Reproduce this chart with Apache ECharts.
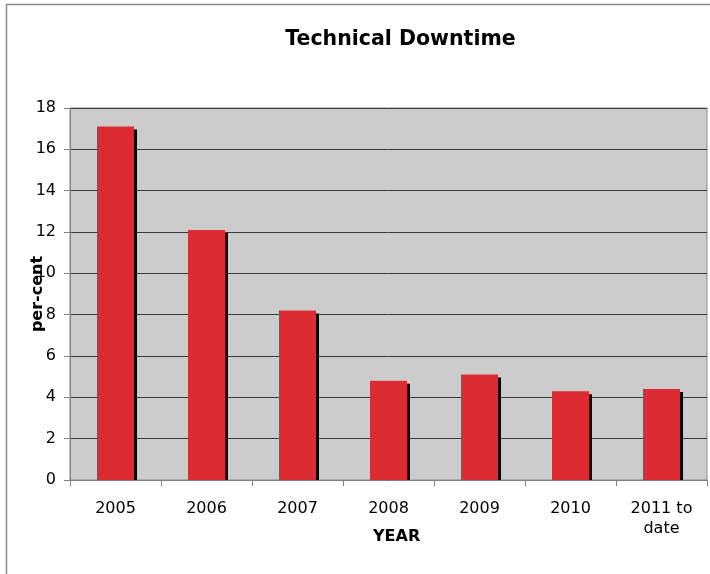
<!DOCTYPE html>
<html>
<head>
<meta charset="utf-8">
<script src="https://cdn.jsdelivr.net/npm/echarts@6/dist/echarts.min.js"></script>
<style>
  html, body { margin: 0; padding: 0; background: #fff; }
  #chart { width: 710px; height: 574px; }
</style>
</head>
<body>
<div id="chart"></div>
<script>
// Technical downtime per year, in per-cent
const years = ['2005', '2006', '2007', '2008', '2009', '2010', '2011 to\ndate'];
const downtime = [17.1, 12.1, 8.2, 4.8, 5.1, 4.3, 4.4];
const yTicks = { min: 0, max: 18, interval: 2 };

const font = 'DejaVu Sans, Verdana, sans-serif';
const chart = echarts.init(document.getElementById('chart'), null, { renderer: 'canvas' });

chart.setOption({
  animation: false,
  backgroundColor: '#ffffff',
  graphic: [
    {
      // outer frame (top and left edges)
      type: 'polyline',
      shape: { points: [[6.5, 580], [6.5, 4.5], [720, 4.5]] },
      style: { stroke: '#8c8c8c', lineWidth: 1.5, fill: null },
      silent: true
    },
    {
      type: 'text',
      x: 400.5,
      y: 39.5,
      style: {
        text: 'Technical Downtime',
        font: 'bold 20.5px ' + font,
        fill: '#000',
        textAlign: 'center',
        textVerticalAlign: 'middle'
      }
    },
    {
      type: 'text',
      left: 373,
      top: 529,
      style: { text: 'YEAR', font: 'bold 16px ' + font, fill: '#000' }
    },
    {
      // keeps the bar shadows from spilling under the category axis
      type: 'rect',
      z: 50,
      shape: { x: 60, y: 481, width: 660, height: 8 },
      style: { fill: '#ffffff' },
      silent: true
    }
  ],
  grid: {
    left: 70, right: 3, top: 108, bottom: 94,
    show: true,
    backgroundColor: '#cccccc',
    borderColor: '#8c8c8c',
    borderWidth: 1
  },
  xAxis: {
    type: 'category',
    z: 60,
    data: years,
    axisLine: { lineStyle: { color: '#808080', width: 1 } },
    axisTick: { show: true, length: 6, alignWithLabel: false, lineStyle: { color: '#808080' } },
    axisLabel: { fontFamily: font, fontSize: 16, color: '#000', margin: 19, lineHeight: 20, interval: 0 },
    splitLine: { show: false }
  },
  yAxis: {
    type: 'value',
    min: yTicks.min,
    max: yTicks.max,
    interval: yTicks.interval,
    name: 'per-cent',
    nameLocation: 'middle',
    nameGap: 24,
    nameMoveOverlap: false,
    nameTextStyle: { fontFamily: font, fontSize: 16, fontWeight: 'bold', color: '#000' },
    axisLine: { show: true, lineStyle: { color: '#808080' } },
    axisTick: { show: true, length: 6, lineStyle: { color: '#808080' } },
    axisLabel: { fontFamily: font, fontSize: 16, color: '#000', margin: 14 },
    splitLine: { show: true, lineStyle: { color: '#3a3a3a', width: 1 } }
  },
  series: [{
    type: 'bar',
    data: downtime,
    barWidth: 37,
    clip: true,
    itemStyle: {
      color: '#dc2b33',
      shadowColor: '#000000',
      shadowOffsetX: 3,
      shadowOffsetY: 3,
      shadowBlur: 0
    }
  }]
});
</script>
</body>
</html>
